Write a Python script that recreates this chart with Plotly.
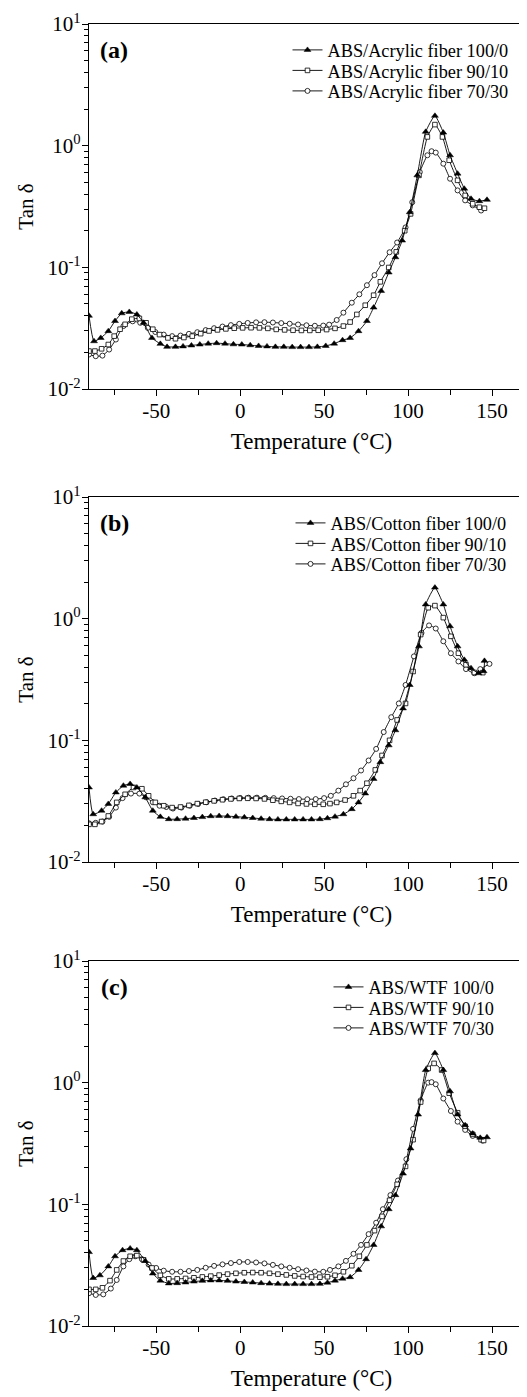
import plotly.graph_objects as go

# ---------------- data ----------------
# Panel (a): ABS / Acrylic fiber
a_100_t = [-90, -87, -83, -78.5, -74.5, -70.5, -66, -61.5, -57.5, -52.5, -47.5, -43.5, -38.5, -34, -29, -24, -19, -14, -9, -4,
           1, 6, 11, 16, 21, 26, 31, 36, 41, 46, 51, 56, 61, 65.5, 70.5, 75.5, 79.5, 84, 88.5, 92.5, 96.5, 101, 105.5,
           110.5, 116, 121, 125, 129.5, 133.5, 137.5, 142.5, 147]
a_100_v = [0.040, 0.0247, 0.0263, 0.0299, 0.0362, 0.0419, 0.043, 0.041, 0.035, 0.0263, 0.0235, 0.0222, 0.0222, 0.0224,
           0.0228, 0.0232, 0.0236, 0.0238, 0.0236, 0.0233, 0.0232, 0.0229, 0.0226, 0.0224, 0.0222, 0.0222, 0.0221,
           0.0221, 0.0221, 0.0222, 0.0226, 0.0236, 0.0252, 0.0263, 0.0299, 0.0362, 0.0467, 0.064, 0.0907, 0.121, 0.166,
           0.284, 0.57, 1.30, 1.76, 1.28, 0.834, 0.589, 0.443, 0.366, 0.35, 0.359]
a_90_t = [-90, -86.5, -82.5, -78.5, -75, -71.5, -68.5, -64.5, -60, -56, -52, -48, -43, -38.5, -33.5, -28.5, -23.5, -18.5,
          -13.5, -8.5, -3.5, 1.5, 6.5, 11.5, 16.5, 21.5, 26.5, 31.5, 36.5, 41.5, 46.5, 51.5, 56.5, 61.5, 65.5, 69.5, 74.5,
          79.5, 83.5, 88.5, 93, 98, 101.5, 106.5, 111.5, 116, 120.5, 124.5, 129.5, 134, 138.5, 142.5, 145.5]
a_90_v = [0.0205, 0.0205, 0.0214, 0.0232, 0.0272, 0.031, 0.034, 0.0375, 0.038, 0.035, 0.031, 0.028, 0.0263, 0.0259,
          0.0265, 0.0272, 0.0285, 0.030, 0.0306, 0.0312, 0.0316, 0.0318, 0.0319, 0.0318, 0.0315, 0.0309, 0.0306, 0.0304,
          0.0303, 0.0303, 0.0304, 0.0308, 0.0315, 0.0329, 0.0355, 0.041, 0.0488, 0.059, 0.076, 0.0997, 0.134, 0.20,
          0.275, 0.57, 1.18, 1.49, 1.18, 0.759, 0.519, 0.39, 0.333, 0.312, 0.306]
a_70_t = [-90, -86, -82, -78, -74, -69.5, -64, -59.5, -55, -50.5, -45.5, -40.5, -35.5, -30.5, -25.5, -20.5, -15.5, -10.5,
          -5.5, -0.5, 4.5, 9.5, 14.5, 19.5, 24.5, 29.5, 34.5, 39.5, 44.5, 49.5, 53, 57.5, 61.5, 66.5, 71, 75.5, 80, 84.5,
          89, 93.5, 98.5, 102.5, 107, 111.5, 114, 116.5, 121, 125, 129.5, 134, 138.5, 143.5]
a_70_v = [0.0192, 0.0186, 0.0188, 0.0211, 0.0255, 0.0329, 0.036, 0.035, 0.0318, 0.0294, 0.028, 0.0272, 0.0275, 0.0284,
          0.0293, 0.0305, 0.0316, 0.0326, 0.0335, 0.0343, 0.0349, 0.0353, 0.0354, 0.0352, 0.0348, 0.0344, 0.0339,
          0.0334, 0.0331, 0.0332, 0.0338, 0.0369, 0.0424, 0.0512, 0.060, 0.0713, 0.0863, 0.108, 0.133, 0.160, 0.213,
          0.343, 0.607, 0.834, 0.90, 0.877, 0.711, 0.535, 0.429, 0.355, 0.323, 0.293]

# Panel (b): ABS / Cotton fiber
b_100_t = [-90, -87.5, -82.5, -78.5, -74, -69.5, -65.5, -61.5, -56.5, -52, -47.5, -42.5, -37.5, -32.5, -27.5, -22.5,
           -17.5, -12.5, -7.5, -2.5, 2.5, 7.5, 12.5, 17.5, 22.5, 27.5, 32.5, 37.5, 42.5, 47.5, 52, 56.5, 61.5, 66.5,
           70.5, 74.5, 79.5, 83.5, 88.5, 92.5, 97, 101, 106.5, 110.5, 116, 121, 125, 129.5, 133.5, 137.5, 142, 145,
           145.5]
b_100_v = [0.041, 0.0247, 0.0264, 0.030, 0.0373, 0.0424, 0.0438, 0.041, 0.034, 0.0264, 0.0235, 0.0225, 0.0225, 0.0227,
           0.023, 0.0234, 0.0238, 0.0239, 0.0238, 0.0236, 0.0233, 0.023, 0.0227, 0.0225, 0.0224, 0.0224, 0.0224, 0.0224,
           0.0224, 0.0225, 0.0229, 0.0236, 0.0247, 0.0272, 0.0309, 0.0366, 0.0482, 0.0662, 0.091, 0.121, 0.183, 0.285,
           0.592, 1.31, 1.80, 1.31, 0.867, 0.592, 0.459, 0.392, 0.356, 0.37, 0.45]
b_90_t = [-90, -86.5, -82.5, -78.5, -73.5, -68.5, -63.5, -58.5, -54.5, -50.5, -45.5, -40.5, -35.5, -30.5, -25.5, -20.5,
          -15.5, -10.5, -5.5, -0.5, 4.5, 9.5, 14.5, 19.5, 24.5, 29.5, 34.5, 39.5, 44.5, 49.5, 53.5, 57.5, 62.5, 67.5,
          71.5, 75.5, 80.5, 84.5, 89, 93.5, 98.5, 103, 107.5, 112, 116, 121, 125.5, 130, 134.5, 139.5, 144.5]
b_90_v = [0.0204, 0.0204, 0.0215, 0.0239, 0.0309, 0.036, 0.041, 0.040, 0.035, 0.0309, 0.029, 0.028, 0.0283, 0.0292,
          0.0302, 0.031, 0.0318, 0.0325, 0.033, 0.0333, 0.0334, 0.0333, 0.033, 0.0322, 0.0315, 0.0309, 0.0303, 0.030,
          0.0298, 0.0298, 0.0302, 0.0309, 0.0323, 0.035, 0.0386, 0.0444, 0.0571, 0.0751, 0.100, 0.147, 0.201, 0.368,
          0.74, 1.23, 1.28, 1.02, 0.716, 0.52, 0.418, 0.361, 0.36]
b_70_t = [-90, -86, -82, -78, -74, -70, -65, -60, -56, -52, -48, -44, -40, -35, -30, -25, -20, -15, -10, -5, 0, 5, 10,
          15, 20, 25, 30, 35, 40, 45, 50, 54, 58.5, 63, 67.5, 72, 76.5, 81, 85.5, 90, 94.5, 98.5, 103.5, 108, 112.5,
          116.5, 121, 125.5, 130, 134.5, 139.5, 143, 148.5]
b_70_v = [0.0208, 0.021, 0.0215, 0.0235, 0.028, 0.0335, 0.0365, 0.0365, 0.034, 0.031, 0.029, 0.0283, 0.0275, 0.028,
          0.029, 0.030, 0.031, 0.032, 0.0328, 0.0333, 0.0336, 0.0338, 0.0338, 0.0337, 0.0335, 0.0333, 0.0331, 0.0329,
          0.0328, 0.0329, 0.0335, 0.035, 0.0386, 0.0435, 0.0488, 0.0565, 0.0683, 0.085, 0.117, 0.155, 0.201, 0.285,
          0.49, 0.763, 0.88, 0.83, 0.652, 0.52, 0.445, 0.385, 0.356, 0.385, 0.425]

# Panel (c): ABS / WTF
c_100_t = [-90, -87.5, -83.5, -78.5, -74.5, -70, -65.5, -61.5, -56.5, -52, -47.5, -42.5, -37.5, -32.5, -27.5, -22.5,
           -17.5, -12.5, -7.5, -2.5, 2.5, 7.5, 12.5, 17.5, 22.5, 27.5, 32.5, 37.5, 42.5, 47.5, 52, 56.5, 61, 65.5, 70.5,
           75, 79.5, 84, 88.5, 92.5, 97, 101.5, 106, 110.5, 116, 121, 125, 129.5, 134, 138.5, 143, 147]
c_100_v = [0.0405, 0.0248, 0.0261, 0.0309, 0.0374, 0.042, 0.0434, 0.042, 0.0342, 0.027, 0.0236, 0.0224, 0.0225, 0.0228,
           0.0232, 0.0235, 0.0237, 0.0237, 0.0235, 0.0232, 0.023, 0.0228, 0.0225, 0.0223, 0.0222, 0.0221, 0.0221,
           0.0221, 0.0221, 0.0222, 0.0227, 0.0236, 0.0245, 0.0252, 0.0289, 0.0354, 0.0464, 0.0659, 0.0912, 0.119, 0.179,
           0.288, 0.547, 1.27, 1.75, 1.27, 0.849, 0.547, 0.447, 0.382, 0.352, 0.356]
c_90_t = [-90, -86, -82, -77.5, -73.5, -69.5, -65.5, -61.5, -57.5, -52.5, -47.5, -42.5, -37.5, -32.5, -27.5, -22.5,
          -17.5, -12.5, -7.5, -2.5, 2.5, 7.5, 12.5, 17.5, 22.5, 27.5, 32.5, 37.5, 42.5, 47.5, 52, 56.5, 61.5, 66.5, 71,
          75.5, 80, 84.5, 89, 93.5, 98.5, 103, 107.5, 112, 115.5, 120, 124.5, 129.5, 134, 138.5, 143.5, 145]
c_90_v = [0.020, 0.020, 0.0206, 0.0236, 0.0289, 0.0342, 0.0374, 0.0379, 0.035, 0.030, 0.0261, 0.0244, 0.0244, 0.0246,
          0.0249, 0.0253, 0.0257, 0.0262, 0.0267, 0.0271, 0.0274, 0.0275, 0.0274, 0.0271, 0.0267, 0.0263, 0.0258,
          0.0255, 0.0253, 0.0252, 0.0254, 0.0261, 0.0279, 0.0313, 0.0374, 0.0464, 0.0608, 0.0796, 0.108, 0.146, 0.205,
          0.34, 0.693, 1.31, 1.44, 1.27, 0.82, 0.566, 0.438, 0.376, 0.34, 0.335]
c_70_t = [-90, -86, -81.5, -77, -73.5, -69.5, -66, -62.5, -58.5, -54.5, -50, -45.5, -40.5, -35.5, -30.5, -25.5, -20.5,
          -15.5, -10.5, -5.5, -0.5, 4.5, 9.5, 14.5, 19.5, 24.5, 29.5, 34.5, 39.5, 44.5, 49.5, 53.5, 58.5, 63, 67.5,
          72, 76.5, 81, 85, 89.5, 94, 99, 103, 107.5, 112, 114, 116.5, 121, 125.5, 129.5, 134, 138.5, 144.5]
c_70_v = [0.0186, 0.018, 0.0182, 0.0203, 0.0239, 0.0309, 0.0354, 0.0374, 0.0354, 0.032, 0.030, 0.0285, 0.0279, 0.0279,
          0.0283, 0.0289, 0.0301, 0.0312, 0.0321, 0.0329, 0.0336, 0.0336, 0.0333, 0.0327, 0.0318, 0.0309, 0.0301,
          0.0293, 0.0286, 0.0280, 0.0279, 0.0289, 0.0309, 0.0343, 0.0392, 0.0464, 0.0569, 0.0706, 0.0912, 0.119, 0.157,
          0.235, 0.417, 0.716, 1.0, 1.01, 0.97, 0.741, 0.585, 0.478, 0.409, 0.365, 0.334]

panel_labels = ["(a)", "(b)", "(c)"]
legend_names = [
    ["ABS/Acrylic fiber 100/0", "ABS/Acrylic fiber 90/10", "ABS/Acrylic fiber 70/30"],
    ["ABS/Cotton fiber 100/0", "ABS/Cotton fiber 90/10", "ABS/Cotton fiber 70/30"],
    ["ABS/WTF 100/0", "ABS/WTF 90/10", "ABS/WTF 70/30"],
]
x_title = "Temperature (°C)"
y_title = "Tan δ"
y_tickvals = [0.01, 0.1, 1, 10]
y_ticktext = ["10<sup>-2</sup>", "10<sup>-1</sup>", "10<sup>0</sup>", "10<sup>1</sup>"]
x_tickvals = [-50, 0, 50, 100, 150]
x_ticktext = ["-50", "0", "50", "100", "150"]
x_minor = [-75, -25, 25, 75, 125, 175]

series = [
    [(a_100_t, a_100_v), (a_90_t, a_90_v), (a_70_t, a_70_v)],
    [(b_100_t, b_100_v), (b_90_t, b_90_v), (b_70_t, b_70_v)],
    [(c_100_t, c_100_v), (c_90_t, c_90_v), (c_70_t, c_70_v)],
]

# ---------------- styling / layout ----------------
W, H = 527, 1397
FONT = "Liberation Serif, Times New Roman, serif"
panel_px = [(16, 381), (489, 854), (953, 1318)]   # top, bottom in px
x_dom = [81 / W, 526 / W]
row_off = [26, 46.5, 67]        # legend rows below panel top
legend_text_x = [319.5, 322.5, 360.5]
label_off = (106, 26)

markers = [
    dict(symbol="triangle-up", size=6, color="black", line=dict(color="black", width=0.5)),
    dict(symbol="square", size=4.6, color="white", line=dict(color="black", width=0.8)),
    dict(symbol="circle", size=5, color="white", line=dict(color="black", width=0.8)),
]

minor_y = []
for dec in [0.01, 0.1, 1]:
    for k in range(2, 10):
        minor_y.append(round(dec * k, 6))

fig = go.Figure()
layout = dict(
    width=W, height=H, margin=dict(l=0, r=0, t=0, b=0),
    paper_bgcolor="white", plot_bgcolor="white", showlegend=True,
    font=dict(family=FONT, color="black"),
)
annotations = []
for p in range(3):
    xa = "x" if p == 0 else f"x{p+1}"
    ya = "y" if p == 0 else f"y{p+1}"
    top, bot = panel_px[p]
    for s in [2, 1, 0]:
        lg_name = f"legend{p*3+s+1}" if p * 3 + s > 0 else "legend"
        t, v = series[p][s]
        fig.add_trace(go.Scatter(
            x=t, y=v, mode="lines+markers", name=legend_names[p][s],
            line=dict(color="black", width=0.9, shape="spline", smoothing=0.5),
            marker=markers[s], xaxis=xa, yaxis=ya, legend=lg_name,
        ))
        layout[lg_name] = dict(
            x=(legend_text_x[p] - 40) / W, y=1 - (top + row_off[s]) / H,
            xanchor="left", yanchor="middle", bgcolor="rgba(0,0,0,0)", borderwidth=0,
            font=dict(family=FONT, size=18.3, color="black"),
            itemsizing="trace",
        )
    xkey = "xaxis" if p == 0 else f"xaxis{p+1}"
    ykey = "yaxis" if p == 0 else f"yaxis{p+1}"
    layout[xkey] = dict(
        domain=x_dom, anchor=ya, range=[-90, 175],
        showline=True, linecolor="black", linewidth=1.2, mirror=True,
        showgrid=False, zeroline=False,
        tickmode="array", tickvals=x_tickvals, ticktext=x_ticktext, ticks="outside", ticklen=6, tickwidth=1,
        tickcolor="black", tickfont=dict(family=FONT, size=21, color="black"), ticklabelstandoff=-3,
        minor=dict(tickmode="array", tickvals=x_minor, ticks="outside", ticklen=5, tickwidth=1, tickcolor="black", showgrid=False),
        title=dict(text=x_title, font=dict(family=FONT, size=23, color="black"), standoff=10),
        automargin=False,
    )
    layout[ykey] = dict(
        domain=[1 - bot / H, 1 - top / H], anchor=xa, type="log", range=[-2, 1],
        showline=True, linecolor="black", linewidth=1.2, mirror=True,
        showgrid=False, zeroline=False,
        tickmode="array", tickvals=y_tickvals, ticktext=y_ticktext, ticks="outside", ticklen=6, tickwidth=1,
        tickcolor="black", tickfont=dict(family=FONT, size=21, color="black"), ticklabelstandoff=-3,
        minor=dict(tickmode="array", tickvals=minor_y, ticks="outside", ticklen=3.5, tickwidth=1, tickcolor="black", showgrid=False),
        title=dict(text=y_title, font=dict(family=FONT, size=21, color="black"), standoff=8),
        automargin=False,
    )
    annotations.append(dict(
        text=f"<b>{panel_labels[p]}</b>", x=label_off[0] / W, y=1 - (top + label_off[1]) / H,
        xref="paper", yref="paper", xanchor="center", yanchor="middle", showarrow=False,
        font=dict(family=FONT, size=24, color="black"),
    ))

layout["annotations"] = annotations
fig.update_layout(**layout)
fig.write_html("out.html")
